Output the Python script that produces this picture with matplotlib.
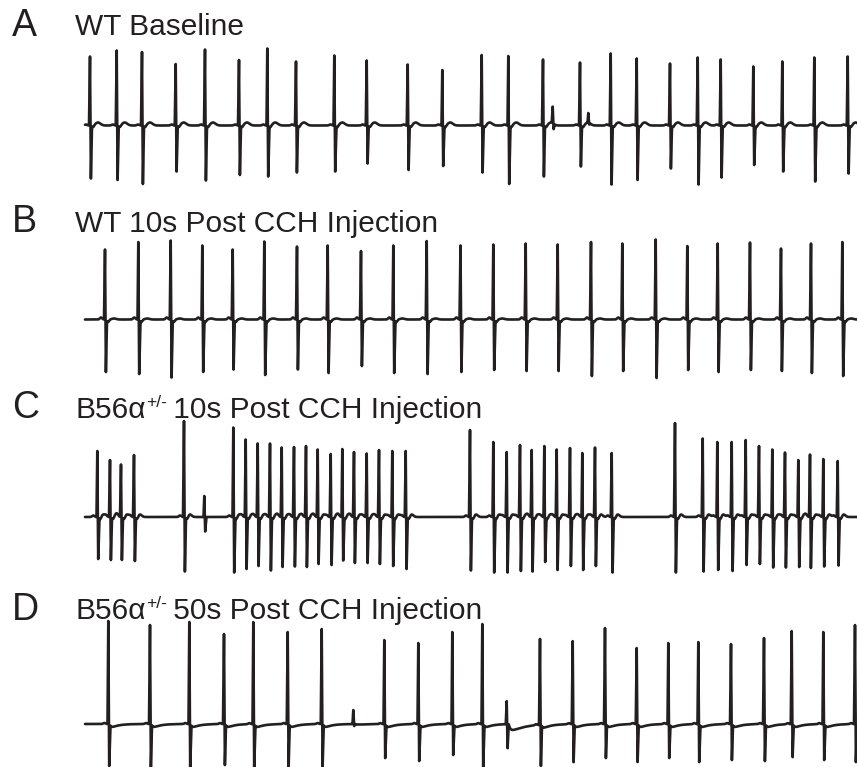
import numpy as np
import matplotlib
matplotlib.use("Agg")
import matplotlib.pyplot as plt

plt.rcParams['font.family'] = ['Liberation Sans', 'DejaVu Sans']

# ---------------- data (time in a.u., amplitude in a.u. relative to baseline) -------------
# Panel A: WT baseline
a_times = [90, 116.7, 142, 175.7, 205, 239, 267.3, 296, 334.3, 366.7, 407.7, 442.3,
           481.7, 508.3, 543, 580, 610.7, 636.7, 670, 697.7, 720.7, 753.3, 782.3, 814.3, 847.7]
a_up = [69, 75, 73.5, 61.5, 76, 65.5, 77, 64, 70, 65, 61, 55.5,
        70.5, 69.5, 66, 63, 72, 67, 62, 68, 66, 59, 64, 68, 69]
a_down = [53, 54.5, 58.5, 46, 55, 49.5, 51, 47, 46, 38, 44.5, 40.5,
          47, 58.5, 51, 41, 59, 54.5, 43, 59, 52, 39.5, 46, 56, 48]
a_small_times = [552.7, 588.3]
a_small_up = [16.5, 9.5]
a_small_down = [6, 2]

# Panel B: WT 10 s post CCH
b_times = [105, 138.3, 170.7, 202.3, 232.7, 264.3, 297, 327.7, 361, 393.3, 426.7, 460.5,
           493.3, 525.7, 557.7, 591, 622.3, 655.7, 687.3, 717.7, 750, 781, 811, 842.3]
b_up = [70, 77.5, 79, 74, 70, 78, 73, 74, 68.5, 74, 78.5, 74,
        75, 76, 75, 77.5, 76, 80, 73.5, 76, 77, 71, 76, 77.5]
b_down = [52.5, 54.5, 58, 52.5, 50, 55.5, 50, 53.5, 46.5, 53.5, 54.5, 52.5,
          50.5, 51.5, 51.5, 56.5, 51.5, 58.5, 50.5, 52.5, 50.5, 51.5, 53.5, 56.5]

# Panel C: B56a+/- 10 s post CCH
c_times = [97.3, 110, 121, 134, 184, 233.3, 245.7, 257.7, 270, 281.7, 294, 306, 317.7,
           330.7, 342.3, 354, 366.7, 379, 392.3, 405.7,
           470, 493.3, 506.7, 520, 531.7, 544.3, 556.7, 570, 582.3, 595, 611.7,
           675, 702.7, 717.3, 731.7, 745.7, 759, 772.3, 785, 798.3, 810, 823.3, 837.7]
c_up = [66, 57, 52.5, 62, 96, 89.5, 77.5, 73.5, 73.5, 69.5, 70, 71, 67.5,
        63, 68, 65, 63.5, 67, 66, 66,
        87, 75, 65, 72, 67, 71, 67.5, 69, 64, 69.5, 64,
        94, 78.5, 75, 75, 77, 71, 67.5, 64.5, 57, 62.5, 58, 56]
c_down = [42, 43, 43, 44, 54.5, 55.5, 52, 49, 53.5, 50, 49.5, 50, 47,
          48, 43.5, 46, 46, 47, 49, 52,
          53.5, 55.5, 55.5, 54, 54.5, 45, 53, 49, 53, 49, 55.5,
          55.5, 54.5, 53, 54, 48, 47, 50.5, 50.5, 50, 51, 49.5, 48.5]
c_small_times = [204.3]
c_small_up = [21]
c_small_down = [14.5]

# Panel D: B56a+/- 50 s post CCH
d_times = [108.3, 150, 189.3, 224, 253.3, 287.7, 321.7, 384.3, 418.3, 452.3,
           482.3, 540, 572.7, 605, 636.7, 668.3, 698.3, 731, 764, 791.7, 823.3, 855]
d_up = [103, 99, 102, 90, 102, 92, 95, 84, 81, 92,
        100, 86, 83, 96, 76, 81, 82, 80, 86, 93, 92, 99]
d_down = [42, 43, 43, 41, 43, 43, 43, 34, 37, 31,
          43, 41, 38, 34, 38, 34, 38, 36, 37, 33, 36, 38]
d_small_times = [353.3, 506.7]
d_small_up = [14, 23]
d_small_down = [2, 24]

labels = ['A', 'B', 'C', 'D']
# title pieces: (main text, superscript, rest)
titles = [('WT Baseline', '', ''),
          ('WT 10s Post CCH Injection', '', ''),
          ('B56α', '+/-', ' 10s Post CCH Injection'),
          ('B56α', '+/-', ' 50s Post CCH Injection')]

# ---------------- drawing -------------
W, H = 857, 767
X0 = 85
ABOVE, BELOW = 110, 62
COLOR = '#231f20'

fig = plt.figure(figsize=(W / 100, H / 100), dpi=100)
fig.patch.set_facecolor('white')


def gauss(t, c, w):
    return np.exp(-((t - c) / w) ** 2)


def make_trace(times, ups, downs, s_times, s_up, s_down, tpl):
    t = np.arange(X0, W + 2, 0.25)
    y = np.zeros_like(t)
    for s in times:
        y += tpl['p'] * gauss(t, s - 4, 1.6)
        y -= tpl['q'] * gauss(t, s + 3, 1.5)
        y += tpl['t'] * gauss(t, s + tpl['toff'], tpl['tw'])
        if tpl['dip']:
            m = t > s + 1.5
            tt = t[m] - s - 1.5
            y[m] -= tpl['dip'] * (1 - np.exp(-tt / 1.5)) * np.exp(-tt / tpl['tau'])
    for s, dd in zip(s_times, s_down):
        if tpl.get('sdip'):
            m = t > s + 2
            tt = t[m] - s - 2
            y[m] -= tpl['sdip'] * (dd / 24) * (1 - np.exp(-tt / 2)) * np.exp(-tt / 14)
    all_t = list(times) + list(s_times)
    all_u = list(ups) + list(s_up)
    all_d = list(downs) + list(s_down)
    keep = np.ones_like(t, dtype=bool)
    for s in all_t:
        keep &= ~((t > s - 0.8) & (t < s + 2.0))
    xs = list(t[keep])
    ys = list(y[keep])
    for s, u, d in zip(all_t, all_u, all_d):
        b = np.interp(s, t, y)
        xs += [s, s + 0.9]
        ys += [b + u, b - d]
    order = np.argsort(xs, kind='stable')
    return np.array(xs)[order], np.array(ys)[order]


panels = [
    (a_times, a_up, a_down, a_small_times, a_small_up, a_small_down, 125.5,
     dict(p=1.0, q=2.0, t=3.0, toff=8, tw=3.5, dip=0, tau=1)),
    (b_times, b_up, b_down, [], [], [], 319.5,
     dict(p=2.0, q=2.5, t=1.0, toff=9, tw=3, dip=0, tau=1)),
    (c_times, c_up, c_down, c_small_times, c_small_up, c_small_down, 517,
     dict(p=1.5, q=2.5, t=2.5, toff=6, tw=2.5, dip=0, tau=1)),
    (d_times, d_up, d_down, d_small_times, d_small_up, d_small_down, 724,
     dict(p=1.0, q=0, t=0, toff=8, tw=3, dip=5, tau=7, sdip=9)),
]

for times, ups, downs, st, su, sd, base_px, tpl in panels:
    ax = fig.add_axes([X0 / W, 1 - (base_px + BELOW) / H, (W - X0) / W, (ABOVE + BELOW) / H])
    ax.set_xlim(X0, W)
    ax.set_ylim(-BELOW, ABOVE)
    ax.axis('off')
    ax.patch.set_alpha(0)
    x, y = make_trace(times, ups, downs, st, su, sd, tpl)
    ax.plot(x, y, color=COLOR, lw=1.9, solid_joinstyle='round',
            solid_capstyle='round', clip_on=False)

renderer = fig.canvas.get_renderer()
label_base = [36, 232, 418, 620]
title_base = [35, 232, 418, 619]
for lab, (main, sup, rest), lb, tb in zip(labels, titles, label_base, title_base):
    fig.text(12 / W, 1 - lb / H, lab, fontsize=27, color=COLOR, va='baseline', ha='left')
    t1 = fig.text(75 / W, 1 - tb / H, main, fontsize=21.5, color=COLOR,
                  va='baseline', ha='left')
    if sup:
        x1 = t1.get_window_extent(renderer).x1
        t2 = fig.text((x1 + 1) / W, 1 - (tb - 11) / H, sup, fontsize=12.5,
                      color=COLOR, va='baseline', ha='left')
        x2 = t2.get_window_extent(renderer).x1
        fig.text((x2 - 2) / W, 1 - tb / H, rest, fontsize=21.5, color=COLOR,
                 va='baseline', ha='left')

fig.savefig('out.png', dpi=100, facecolor='white')
